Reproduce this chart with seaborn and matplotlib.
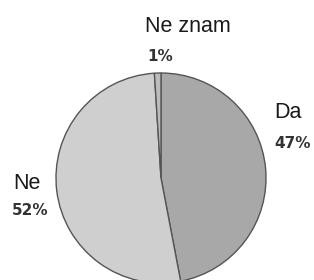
import matplotlib
matplotlib.use("Agg")
import matplotlib.pyplot as plt
import seaborn as sns

sns.set_theme(style="white")
plt.rcParams['font.family'] = ['Liberation Sans', 'DejaVu Sans']

labels = ["Da", "Ne", "Ne znam"]
values = [47, 52, 1]
pcts = ["47%", "52%", "1%"]
colors = ["#a9a8a8", "#d0cfcf", "#bdbcbc"]

fig = plt.figure(figsize=(3.14, 2.8), dpi=100)
ax = fig.add_axes([0, 0, 1, 1])
ax.pie(values, colors=colors, startangle=90, counterclock=False,
       wedgeprops=dict(edgecolor="#555555", linewidth=1.0))
ax.set_xlim(-1.533, 1.457)
ax.set_ylim(-0.971, 1.695)
ax.set_aspect("equal")
ax.axis("off")

# label positions (left edge, vertical centre) for name and percentage
name_pos = {"Da": (1.080, 0.62), "Ne": (-1.41, -0.05), "Ne znam": (-0.150, 1.44)}
pct_pos = {"Da": (1.080, 0.33), "Ne": (-1.42, -0.305), "Ne znam": (-0.130, 1.16)}

for lab, p in zip(labels, pcts):
    x, y = name_pos[lab]
    ax.text(x, y, lab, fontsize=15.5, ha="left", va="center", color="#1a1a1a")
    x, y = pct_pos[lab]
    ax.text(x, y, p, fontsize=11, fontweight="bold", ha="left", va="center",
            color="#333333", family="DejaVu Sans")

fig.savefig("out.png", dpi=100)
